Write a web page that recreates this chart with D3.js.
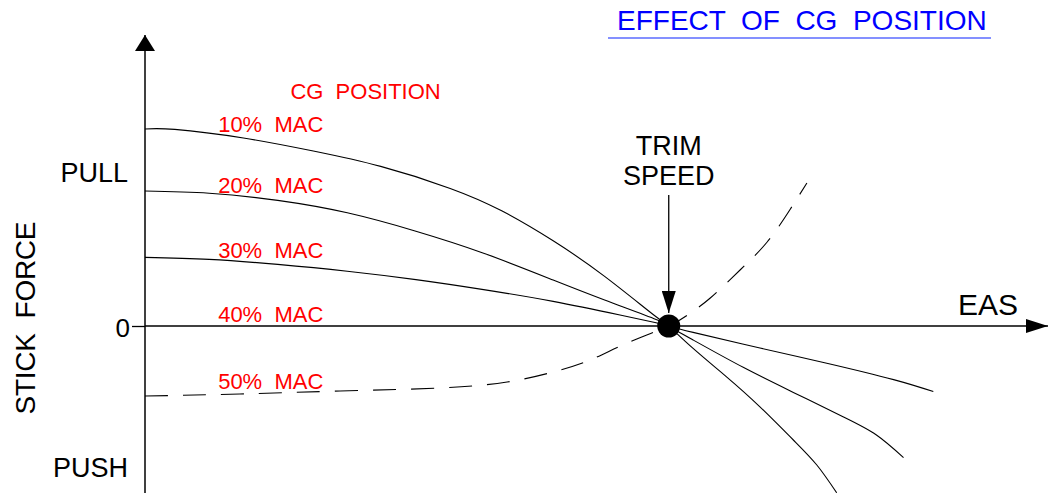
<!DOCTYPE html>
<html>
<head>
<meta charset="utf-8">
<script src="https://cdn.jsdelivr.net/npm/d3@7"></script>
<style>
  body { margin: 0; background: #fff; }
  svg text { font-family: "Liberation Sans", Arial, sans-serif; white-space: pre; }
</style>
</head>
<body>
<div id="chart"></div>
<script>
(function(){

// CG positions (series names)
var cgPositions = ["10%  MAC", "20%  MAC", "30%  MAC", "40%  MAC", "50%  MAC"];

// EAS (0-100 arbitrary) and stick force (pull +, push -)
var eas10 = [0, 3.3, 10.9, 18.5, 26.1, 33.8, 39.5, 45.2, 50.9, 56.6, 58, 60.7, 64.4, 68.1, 71.8, 74.4, 76.6];
var force10 = [98.5, 98.3, 94, 87.6, 79.8, 68.8, 57.6, 42.6, 24.8, 4.6, 0, -11.2, -25.4, -40.4, -57, -69.5, -83.4];

var eas20 = [0, 7.1, 14.7, 22.4, 30, 37.5, 45.2, 50.9, 56.6, 58, 60.7, 66.3, 71.8, 77.3, 81, 84];
var force20 = [67.5, 66.4, 62.8, 56.6, 47.4, 36.4, 23, 13, 3.3, 0, -7, -20.8, -33.2, -45.4, -54.5, -65.8];

var eas30 = [0, 7.1, 14.7, 22.4, 30, 37.5, 45.2, 52.6, 56.6, 58, 60.7, 68.1, 75.5, 82.9, 87.3];
var force30 = [34.3, 33.3, 30.8, 27.4, 23.2, 18.2, 12.3, 5.5, 1.6, 0, -3.2, -11, -18.6, -26.8, -32.8];

var eas40 = [0, 58];
var force40 = [0, 0];

var eas50 = [0, 10.5, 21.6, 32.7, 40.1, 45.2, 49.3, 53.4, 58, 60.4, 62.6, 65.9, 68.9, 71.4, 73.3];
var force50 = [-35, -34, -32.5, -31, -28, -23, -17, -8.5, 0, 6.5, 14, 28, 42, 58, 71.5];

var dashed = [false, false, false, false, true];
var labelEas = 8.1;
var labelForce = [97, 66.5, 34, 2, -31.5];

var trimEas = 58;
var pullForce = 77, pushForce = -70.5;

var width = 1048, height = 493;
var font = "'Liberation Sans', Arial, sans-serif";

var x = d3.scaleLinear().domain([0, 100]).range([145, 1048]);
var y = d3.scaleLinear().domain([-85, 145]).range([496, 36]);

var svg = d3.select("#chart").append("svg")
    .attr("width", width)
    .attr("height", height);

var defs = svg.append("defs");
defs.append("marker")
    .attr("id", "arrow")
    .attr("viewBox", "0 0 16 20")
    .attr("refX", 16).attr("refY", 10)
    .attr("markerWidth", 16).attr("markerHeight", 20)
    .attr("markerUnits", "userSpaceOnUse")
    .attr("orient", "auto")
  .append("path")
    .attr("d", "M0,0L16,10L0,20Z")
    .attr("fill", "#000");
defs.append("marker")
    .attr("id", "arrowSmall")
    .attr("viewBox", "0 0 22 14")
    .attr("refX", 22).attr("refY", 7)
    .attr("markerWidth", 22).attr("markerHeight", 14)
    .attr("markerUnits", "userSpaceOnUse")
    .attr("orient", "auto")
  .append("path")
    .attr("d", "M0,0L22,7L0,14Z")
    .attr("fill", "#000");

// title
svg.append("text")
    .attr("x", 617).attr("y", 30)
    .style("font-size", "28px")
    .style("fill", "#0000ff")
    .text("EFFECT  OF  CG  POSITION");
svg.append("line")
    .attr("x1", 608).attr("x2", 991)
    .attr("y1", 38).attr("y2", 38)
    .style("stroke", "#5b6bff")
    .style("stroke-width", 1.6);

// axes
svg.append("line")   // y axis with arrow
    .attr("x1", x(0)).attr("x2", x(0))
    .attr("y1", height).attr("y2", 35)
    .style("stroke", "#000").style("stroke-width", 1.5)
    .attr("marker-end", "url(#arrow)");
svg.append("line")   // x axis with arrow
    .attr("x1", x(0)).attr("x2", x(100))
    .attr("y1", y(0)).attr("y2", y(0))
    .style("stroke", "#000").style("stroke-width", 1.5)
    .attr("marker-end", "url(#arrowSmall)");

var yAxis = d3.axisLeft(y).tickValues([0]).tickSize(13).tickPadding(2);
var gy = svg.append("g")
    .attr("transform", "translate(" + x(0) + ",0)")
    .call(yAxis);
gy.select(".domain").remove();
gy.selectAll(".tick line").style("stroke", "#000").style("stroke-width", 1.3);
gy.selectAll(".tick text")
    .style("font-family", font)
    .style("font-size", "26px")
    .attr("dy", "0.42em")
    .style("fill", "#000");

svg.append("text")
    .attr("x", 128).attr("y", y(pullForce))
    .attr("dy", "0.36em")
    .attr("text-anchor", "end")
    .style("font-size", "27px")
    .text("PULL");
svg.append("text")
    .attr("x", 128).attr("y", y(pushForce))
    .attr("dy", "0.36em")
    .attr("text-anchor", "end")
    .style("font-size", "27px")
    .text("PUSH");

svg.append("text")
    .attr("transform", "translate(35,318) rotate(-90)")
    .attr("text-anchor", "middle")
    .attr("textLength", 193)
    .style("font-size", "28px")
    .text("STICK  FORCE");

svg.append("text")
    .attr("x", 1018).attr("y", 315)
    .attr("text-anchor", "end")
    .style("font-size", "30px")
    .text("EAS");

// curves
var easSeries = [eas10, eas20, eas30, eas40, eas50];
var forceSeries = [force10, force20, force30, force40, force50];

var line = d3.line()
    .x(function(d) { return x(d[0]); })
    .y(function(d) { return y(d[1]); })
    .curve(d3.curveNatural);

easSeries.forEach(function(e, i) {
    if (i === 3) return; // 40% lies on the EAS axis
    var pts = e.map(function(v, j) { return [v, forceSeries[i][j]]; });
    svg.append("path")
        .attr("d", line(pts))
        .style("fill", "none")
        .style("stroke", "#000")
        .style("stroke-width", 1.1)
        .style("stroke-dasharray", dashed[i] ? "23,15" : null);
});

// labels
svg.append("text")
    .attr("x", x(16.1)).attr("y", y(113.5))
    .style("font-size", "22px")
    .style("fill", "#ff0000")
    .text("CG  POSITION");

svg.selectAll(".cg-label")
    .data(cgPositions)
  .enter().append("text")
    .attr("class", "cg-label")
    .attr("x", x(labelEas))
    .attr("y", function(d, i) { return y(labelForce[i]); })
    .style("font-size", "22px")
    .style("fill", "#ff0000")
    .text(function(d) { return d; });

// trim speed
svg.append("circle")
    .attr("cx", x(trimEas)).attr("cy", y(0))
    .attr("r", 11.5)
    .style("fill", "#000");

svg.append("line")
    .attr("x1", x(trimEas)).attr("x2", x(trimEas))
    .attr("y1", 195).attr("y2", y(0) - 13)
    .style("stroke", "#000").style("stroke-width", 1.3)
    .attr("marker-end", "url(#arrowSmall)");

svg.append("text")
    .attr("x", x(trimEas)).attr("y", 155)
    .attr("text-anchor", "middle")
    .style("font-size", "27px")
    .text("TRIM");
svg.append("text")
    .attr("x", x(trimEas)).attr("y", 185)
    .attr("text-anchor", "middle")
    .style("font-size", "27px")
    .text("SPEED");

})();
</script>
</body>
</html>
